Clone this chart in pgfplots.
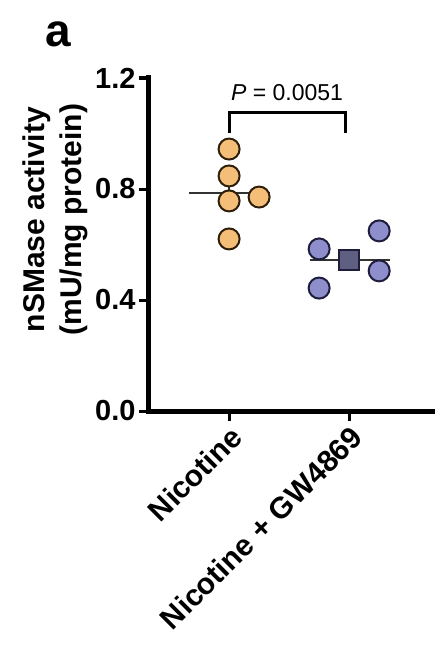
\documentclass[border=0pt]{standalone}
\usepackage{fontspec}
\setmainfont{Liberation Sans}
\usepackage{pgfplots}
\pgfplotsset{compat=1.18}
\definecolor{orfill}{RGB}{245,190,120}
\definecolor{oredge}{RGB}{45,30,10}
\definecolor{pufill}{RGB}{142,142,204}
\definecolor{puedge}{RGB}{30,30,60}
\definecolor{sqfill}{RGB}{95,95,130}
\definecolor{meanc}{RGB}{50,50,50}
\begin{document}
\begin{tikzpicture}[x=1pt,y=1pt]
\useasboundingbox (-149,-242) rectangle (285,411);
\begin{axis}[
  at={(0,0)}, anchor=origin,
  scale only axis, width=283pt, height=333pt,
  xmin=0.333, xmax=2.69, ymin=0, ymax=1.2,
  axis x line*=bottom, axis y line*=left,
  axis line style={line width=5pt, line cap=rect},
  xtick={1,2}, xticklabels={Nicotine, Nicotine + GW4869},
  ytick={0,0.4,0.8,1.2},
  yticklabels={0.0,0.4,0.8,1.2},
  tick align=outside, major tick length=10pt,
  every tick/.style={line width=3pt, black},
  tick label style={font=\bfseries\fontsize{29}{29}\selectfont},
  /pgf/number format/assume math mode=true,
  x tick label style={rotate=45, anchor=north east, font=\bfseries\fontsize{30}{30}\selectfont, inner sep=2pt},
  ylabel={nSMase activity\\(mU/mg protein)},
  ylabel style={align=center, font=\bfseries\fontsize{30}{37}\selectfont, at={(ticklabel cs:0.575)}},
  clip=false,
]
% data points
\addplot[only marks, mark=*, mark size=10.5pt, mark options={fill=orfill, draw=oredge, line width=2pt}]
  coordinates {(1,0.944) (1,0.847) (1,0.757) (1.25,0.771) (1,0.620)};
\addplot[only marks, mark=*, mark size=10.5pt, mark options={fill=pufill, draw=puedge, line width=2pt}]
  coordinates {(1.75,0.584) (1.75,0.443) (2.25,0.649) (2.25,0.505)};
\addplot[only marks, mark=square*, mark size=10pt, mark options={fill=sqfill, draw=puedge, line width=2pt}]
  coordinates {(2.0,0.544)};
% means
\addplot[meanc, line width=2.5pt] coordinates {(0.667,0.786) (1.34,0.786)};
\addplot[meanc, line width=2.5pt] coordinates {(1.675,0.544) (2.34,0.544)};
% SEM
\addplot[meanc, line width=2.5pt] coordinates {(1,0.732) (1,0.840)};
\addplot[meanc, line width=2.5pt] coordinates {(2,0.509) (2,0.579)};
% bracket
\addplot[black, line width=3pt] coordinates {(1,1.002) (1,1.074) (1.97,1.074) (1.97,1.002)};
\node[font=\fontsize{23}{23}\selectfont] at (axis cs:1.483,1.146) {\textit{P} = 0.0051};
\node[font=\bfseries\fontsize{46}{46}\selectfont] at (rel axis cs:-0.32,1.13) {a};
\end{axis}
\end{tikzpicture}
\end{document}
